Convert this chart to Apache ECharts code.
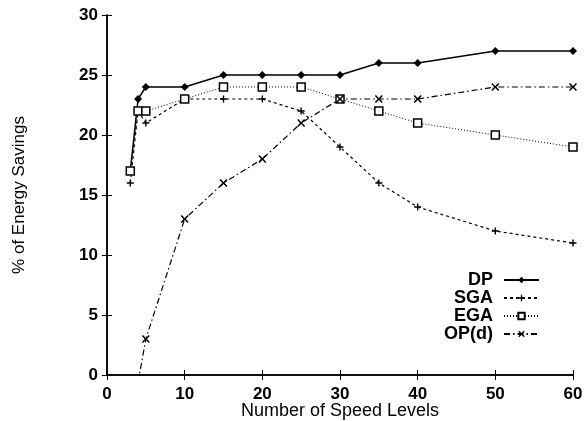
<!DOCTYPE html>
<html><head><meta charset="utf-8">
<script src="https://cdn.jsdelivr.net/npm/echarts@6/dist/echarts.min.js"></script>
<style>html,body{margin:0;padding:0;background:#fff}#c{width:586px;height:421px}</style>
</head><body><div id="c"></div>
<script>
const speedLevels = [3, 4, 5, 10, 15, 20, 25, 30, 35, 40, 50, 60];
const dpValues  = [17, 23, 24, 24, 25, 25, 25, 25, 26, 26, 27, 27];
const sgaValues = [16, 22, 21, 23, 23, 23, 22, 19, 16, 14, 12, 11];
const egaValues = [17, 22, 22, 23, 24, 24, 24, 23, 22, 21, 20, 19];
const opLevels  = [4, 5, 10, 15, 20, 25, 30, 35, 40, 50, 60];
const opValues  = [-0.6, 3, 13, 16, 18, 21, 23, 23, 23, 24, 24];
const xTicks = [0, 10, 20, 30, 40, 50, 60];
const yTicks = [0, 5, 10, 15, 20, 25, 30];

const pairs = (xs, ys) => xs.map((x, i) => [x, ys[i]]);
const FONT = '"Liberation Sans", Arial, sans-serif';
const plusPath = 'path://M3.2,0H4.8V3.2H8V4.8H4.8V8H3.2V4.8H0V3.2H3.2Z';
const crossPath = 'path://M0,1.1L1.1,0L4,2.9L6.9,0L8,1.1L5.1,4L8,6.9L6.9,8L4,5.1L1.1,8L0,6.9L2.9,4Z';

const chart = echarts.init(document.getElementById('c'), null, {renderer: 'canvas'});
const axisLine = {show: true, lineStyle: {color: '#000', width: 1.5}};
const tick = {show: true, inside: true, length: 5, lineStyle: {color: '#000', width: 1}};
const label = {color: '#000', fontFamily: FONT, fontWeight: 'bold', fontSize: 17};
chart.setOption({
  animation: false,
  backgroundColor: '#fff',
  grid: {left: 107, right: 13, top: 15, bottom: 46, containLabel: false, outerBoundsMode: 'none'},
  xAxis: [{
    type: 'value', min: 0, max: 60, interval: 10, position: 'bottom',
    axisLine, axisTick: tick, splitLine: {show: false},
    axisLabel: Object.assign({margin: 11, formatter: v => xTicks.includes(v) ? String(v) : ''}, label),
    name: 'Number of Speed Levels', nameLocation: 'middle', nameGap: 27, nameMoveOverlap: false,
    nameTextStyle: {color: '#000', fontFamily: FONT, fontSize: 18}
  }, {
    type: 'value', min: 0, max: 60, interval: 10, position: 'top',
    axisLine, axisTick: tick, axisLabel: {show: false}, splitLine: {show: false}
  }],
  yAxis: [{
    type: 'value', min: 0, max: 30, interval: 5, position: 'left',
    axisLine, axisTick: tick, splitLine: {show: false},
    axisLabel: Object.assign({margin: 9, formatter: v => yTicks.includes(v) ? String(v) : ''}, label),
    name: '% of Energy Savings', nameLocation: 'middle', nameGap: 79, nameRotate: 90, nameMoveOverlap: false,
    nameTextStyle: {color: '#000', fontFamily: FONT, fontSize: 17}
  }, {
    type: 'value', min: 0, max: 30, interval: 5, position: 'right',
    axisLine, axisTick: tick, axisLabel: {show: false}, splitLine: {show: false}
  }],
  legend: {
    orient: 'vertical', right: 41, top: 266, align: 'right',
    itemWidth: 35, itemHeight: 8, itemGap: 0,
    textStyle: {color: '#000', fontFamily: FONT, fontWeight: 'bold', fontSize: 18, lineHeight: 18, width: 52, align: 'right', padding: [0, 6, 0, 0]},
    data: ['DP', 'SGA', 'EGA', 'OP(d)']
  },
  series: [{
    name: 'DP', type: 'line', data: pairs(speedLevels, dpValues),
    symbol: 'diamond', symbolSize: 8, color: '#000',
    itemStyle: {color: '#000'}, lineStyle: {color: '#000', width: 1.5, type: 'solid'}
  }, {
    name: 'SGA', type: 'line', data: pairs(speedLevels, sgaValues),
    symbol: plusPath, symbolSize: 7, color: '#000',
    itemStyle: {color: '#000'}, lineStyle: {color: '#000', width: 1.2, type: [3, 3]}
  }, {
    name: 'EGA', type: 'line', data: pairs(speedLevels, egaValues),
    symbol: 'rect', symbolSize: 8, color: '#000',
    itemStyle: {color: '#fff', borderColor: '#000', borderWidth: 1.5}, lineStyle: {color: '#000', width: 1, type: [1, 2]}
  }, {
    name: 'OP(d)', type: 'line', data: pairs(opLevels, opValues), clip: true,
    symbol: crossPath, symbolSize: 8, color: '#000',
    itemStyle: {color: '#000'}, lineStyle: {color: '#000', width: 1.2, type: [6, 3, 1.5, 3]}
  }]
});
</script></body></html>
